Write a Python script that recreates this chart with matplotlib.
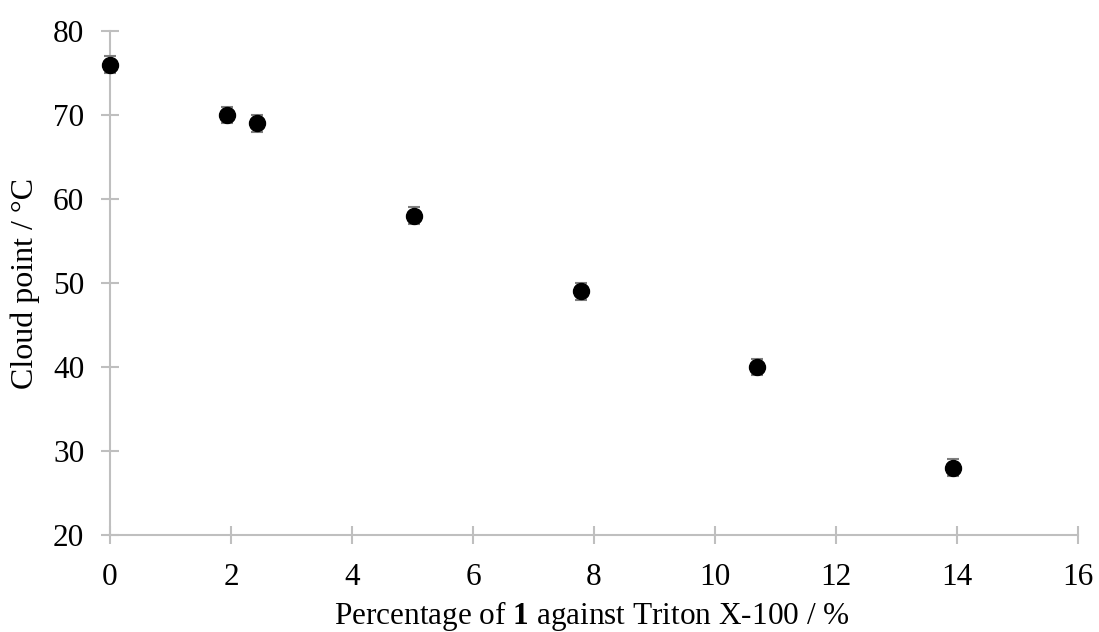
import matplotlib
matplotlib.use("Agg")
import matplotlib.pyplot as plt

plt.rcParams['font.family'] = ['Liberation Serif', 'DejaVu Serif']
plt.rcParams['mathtext.fontset'] = 'custom'
plt.rcParams['mathtext.rm'] = 'Liberation Serif'
plt.rcParams['mathtext.bf'] = 'Liberation Serif:bold'

percent = [0.0, 1.93, 2.43, 5.02, 7.79, 10.69, 13.93]
cloud_point = [76, 70, 69, 58, 49, 40, 28]
error = [1, 1, 1, 1, 1, 1, 1]

x_ticks = [0, 2, 4, 6, 8, 10, 12, 14, 16]
y_ticks = [20, 30, 40, 50, 60, 70, 80]

fig = plt.figure(figsize=(10.99, 6.32), dpi=100)
ax = fig.add_axes([0.1001, 0.1535, 0.8808, 0.7975])

ax.errorbar(percent, cloud_point, yerr=error, fmt='o', color='black',
            markersize=11.5, ecolor='#7f7f7f', elinewidth=1.2, capsize=4.5,
            capthick=1.5, zorder=3, clip_on=False)

ax.set_xlim(0, 16)
ax.set_ylim(20, 80)
ax.set_xticks(x_ticks)
ax.set_yticks(y_ticks)

for side in ('top', 'right'):
    ax.spines[side].set_visible(False)
for side in ('left', 'bottom'):
    ax.spines[side].set_color('#bfbfbf')
    ax.spines[side].set_linewidth(1.5)

ax.tick_params(axis='both', direction='inout', length=13, width=1.5,
               color='#bfbfbf', labelsize=22.5, labelcolor='black')
ax.tick_params(axis='x', pad=14)
ax.tick_params(axis='y', pad=12)

ax.set_xlabel(r'Percentage of $\mathbf{1}$ against Triton X-100 / %', fontsize=22.5)
ax.set_ylabel('Cloud point / °C', fontsize=23)
ax.xaxis.set_label_coords(0.498, -0.127)
ax.yaxis.set_label_coords(-0.072, 0.5)

fig.savefig('out.png', dpi=100)
